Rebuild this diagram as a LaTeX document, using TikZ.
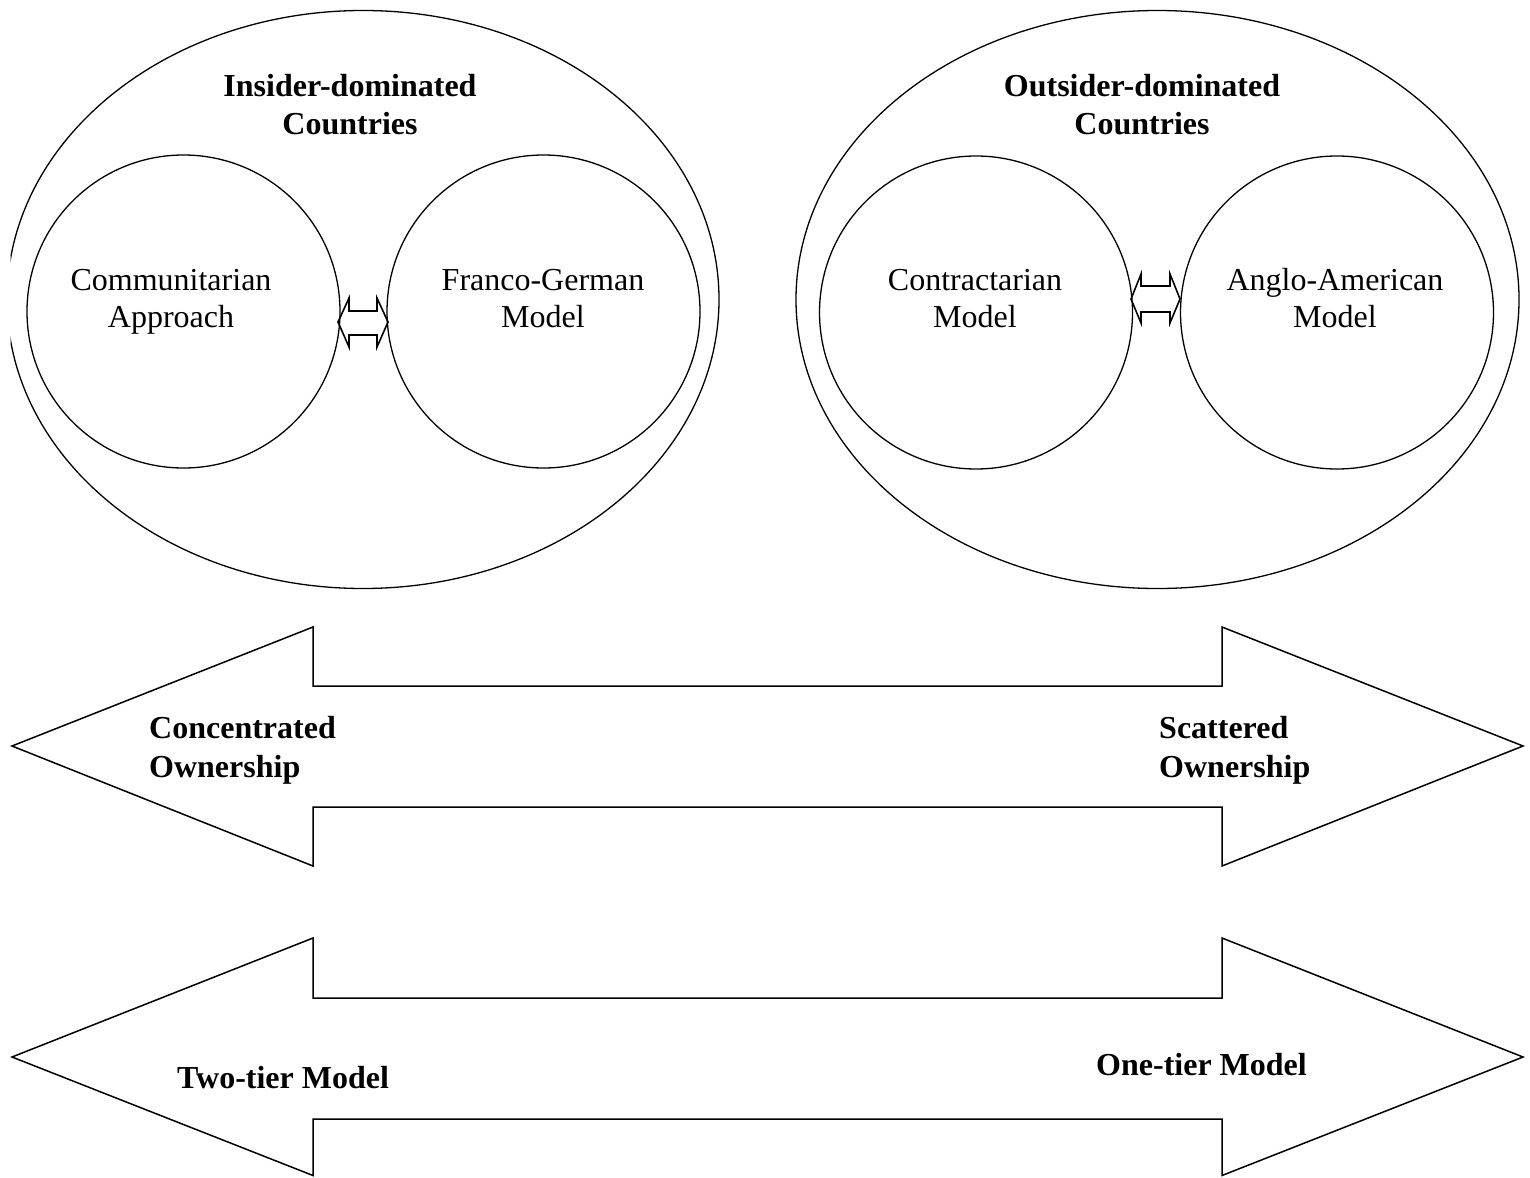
\documentclass[tikz,border=0pt]{standalone}
\usepackage{fontspec}
\setmainfont{Liberation Serif}
\usetikzlibrary{shapes.geometric}
\tikzset{
  outer/.style={ellipse,draw,line width=1.3pt,inner sep=0pt},
  inner/.style={circle,draw,line width=1.3pt,inner sep=0pt,minimum size=313pt},
  bigarrow/.style={draw,line width=1.5pt,line join=miter},
  smallarrow/.style={draw,line width=1.6pt,line join=miter},
  lbl/.style={inner sep=0pt,anchor=base,font=\fontsize{32}{37}\selectfont},
  blbl/.style={inner sep=0pt,anchor=base,font=\fontsize{32}{38}\selectfont\bfseries},
}
\newcommand{\twol}[3]{\begin{tabular}[t]{@{}#1@{}}#2\\#3\end{tabular}}
\begin{document}
\begin{tikzpicture}[x=1pt,y=-1pt]
\useasboundingbox (0,0) rectangle (1530,1177);
% outer ellipses
\begin{scope}
  \clip (10.5,0) rectangle (1530,1177);
  \node[outer,minimum width=712pt,minimum height=578pt] (eL) at (363,299.5) {};
\end{scope}
\node[outer,minimum width=723pt,minimum height=578pt] (eR) at (1157.5,299.5) {};
% inner circles
\node[inner] (cA) at (183.5,311.5) {};
\node[inner] (cB) at (543.5,311.5) {};
\node[inner] (cC) at (976,312.5) {};
\node[inner] (cD) at (1337,312.5) {};
% titles
\node[blbl] (tL) at (350,97) {\twol{c}{Insider-dominated}{Countries}};
\node[blbl] (tR) at (1142,97) {\twol{c}{Outsider-dominated}{Countries}};
% circle labels
\node[lbl] (lA) at (171,290) {\twol{c}{Communitarian}{Approach}};
\node[lbl] (lB) at (543,290) {\twol{c}{Franco-German}{Model}};
\node[lbl] (lC) at (975,290) {\twol{c}{Contractarian}{Model}};
\node[lbl] (lD) at (1335,290) {\twol{c}{Anglo-American}{Model}};
% small double arrows between circles
\coordinate (dL) at (338,322);
\coordinate (dR) at (1131,299);
\path[smallarrow] (dL) -- ++(11,-24) -- ++(0,13) -- ++(28,0) -- ++(0,-13) -- ++(11,24)
  -- ++(-11,25) -- ++(0,-12) -- ++(-28,0) -- ++(0,12) -- cycle;
\path[smallarrow] (dR) -- ++(10,-25) -- ++(0,12) -- ++(29,0) -- ++(0,-12) -- ++(10,25)
  -- ++(-10,24) -- ++(0,-11) -- ++(-29,0) -- ++(0,11) -- cycle;
% big double arrows
\path[bigarrow] (12,746) -- (313,627) -- (313,686) -- (1222,686) -- (1222,627) -- (1523,746)
  -- (1222,866) -- (1222,807) -- (313,807) -- (313,866) -- cycle;
\path[bigarrow] (12,1057) -- (313,938) -- (313,998) -- (1222,998) -- (1222,938) -- (1523,1057)
  -- (1222,1175.5) -- (1222,1119) -- (313,1119) -- (313,1175.5) -- cycle;
% arrow labels
\node[blbl,anchor=base west] (aL) at (149,738) {\fontsize{32}{39}\selectfont\twol{l}{Concentrated}{Ownership}};
\node[blbl,anchor=base west] (aR) at (1159,738) {\fontsize{32}{39}\selectfont\twol{l}{Scattered}{Ownership}};
\node[blbl,anchor=base west] (bL) at (177,1088) {Two-tier Model};
\node[blbl,anchor=base west] (bR) at (1096,1075) {One-tier Model};
\end{tikzpicture}
\end{document}
